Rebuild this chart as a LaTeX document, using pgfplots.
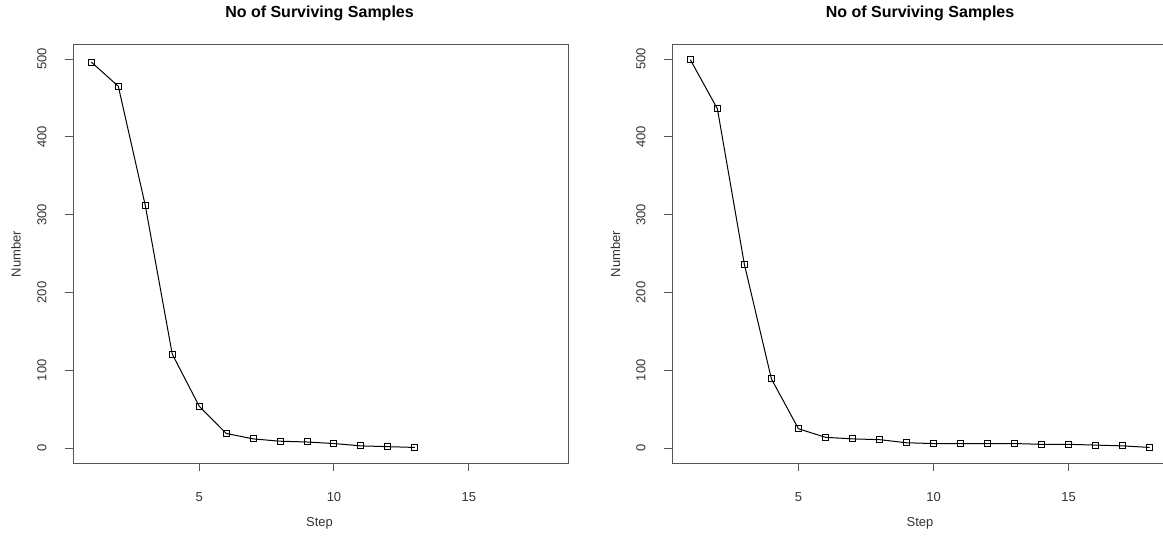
\documentclass[border=0pt]{standalone}
\usepackage{fontspec}
\setmainfont{Liberation Sans}
\usepackage{pgfplots}
\pgfplotsset{compat=1.18}
\definecolor{boxgray}{HTML}{555555}
\definecolor{txtgray}{HTML}{333333}

% 1 px of the reference = 0.6pt
\pgfplotsset{
  rplot/.style={
    scale only axis, anchor=south west,
    width=297pt, height=250.8pt,
    xmin=0.32, xmax=18.68, ymin=-19, ymax=518,
    xtick={5,10,15}, ytick={0,100,200,300,400,500},
    axis line style={boxgray, line width=0.6pt},
    tick style={boxgray, line width=0.6pt},
    tick align=outside, major tick length=4.8pt,
    xtick pos=bottom, ytick pos=left,
    tick label style={font=\fontsize{7.8}{9}\selectfont, text=txtgray},
    /pgf/number format/assume math mode=true,
    xticklabel style={anchor=north, inner sep=0pt},
    xticklabel shift=12.6pt,
    yticklabel style={rotate=90, anchor=base, inner sep=0pt},
    yticklabel shift=11.2pt,
    clip=false,
  },
  rline/.style={black, line width=0.6pt, mark=square, mark size=1.8pt,
    mark options={solid, line width=0.6pt}},
}

\begin{document}
\begin{tikzpicture}
% left panel
\begin{axis}[rplot, at={(43.8pt,44.4pt)}]
\addplot[rline] coordinates {(1,496)(2,465)(3,312)(4,121)(5,54)(6,19)(7,12)(8,9)(9,8)(10,6)(11,3)(12,2)(13,1)};
\end{axis}
% right panel
\begin{axis}[rplot, at={(403.2pt,44.4pt)}, width=297.6pt]
\addplot[rline] coordinates {(1,499)(2,436)(3,236)(4,89)(5,25)(6,14)(7,12)(8,11)(9,7)(10,6)(11,6)(12,6)(13,6)(14,5)(15,5)(16,4)(17,3)(18,1)};
\end{axis}

\begin{scope}[every node/.style={inner sep=0pt, text=black}]
\node[anchor=base, font=\fontsize{9.6}{11}\selectfont\bfseries] at (191.7pt,312pt) {No of Surviving Samples};
\node[anchor=base, font=\fontsize{9.6}{11}\selectfont\bfseries] at (552pt,312pt) {No of Surviving Samples};
\node[anchor=base, font=\fontsize{7.8}{9}\selectfont, text=txtgray] at (191.7pt,6.2pt) {Step};
\node[anchor=base, font=\fontsize{7.8}{9}\selectfont, text=txtgray] at (552pt,6.2pt) {Step};
\node[anchor=base, rotate=90, font=\fontsize{7.8}{9}\selectfont, text=txtgray] at (12.4pt,169.8pt) {Number};
\node[anchor=base, rotate=90, font=\fontsize{7.8}{9}\selectfont, text=txtgray] at (372pt,169.8pt) {Number};
\end{scope}

\pgfresetboundingbox
\path[use as bounding box] (0,0) rectangle (697.8pt,322.2pt);
\end{tikzpicture}
\end{document}
